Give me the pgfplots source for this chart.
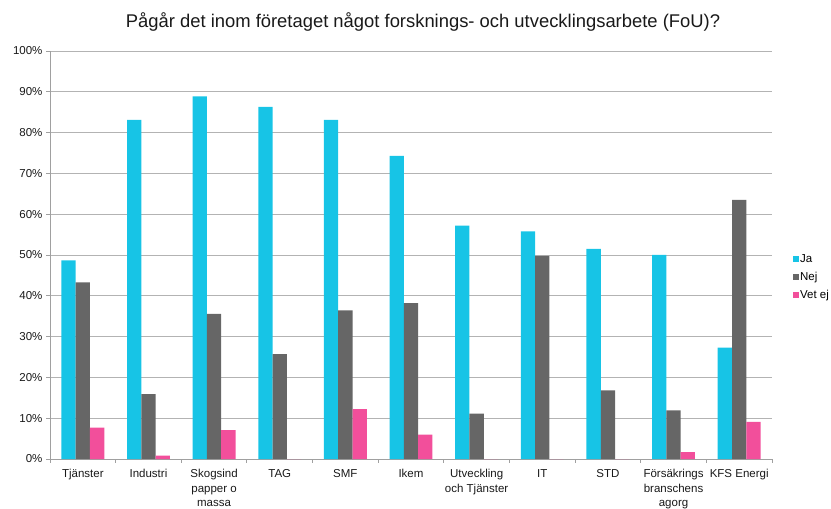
\documentclass[border=0pt]{standalone}
\usepackage{pgfplots}
\pgfplotsset{compat=1.18}
\usepackage{fontspec}
\setmainfont{Liberation Sans}
\definecolor{ja}{HTML}{17C4E6}
\definecolor{nej}{HTML}{666666}
\definecolor{vet}{HTML}{F24F9B}
\definecolor{gridc}{HTML}{B3B3B3}
\definecolor{axc}{HTML}{A0A0A0}
\begin{document}
\begin{tikzpicture}[x=1pt,y=1pt]
\useasboundingbox (0,0) rectangle (831,509);
\node[font=\fontsize{18.4}{21}\selectfont, text=black!90] at (423,487) {Pågår det inom företaget något forsknings- och utvecklingsarbete (FoU)?};
\begin{axis}[at={(50pt,50pt)}, anchor=south west, scale only axis,
  width=722pt, height=408pt,
  ybar=0pt, bar width=14.3pt,
  xmin=-0.5, xmax=10.5, ymin=0, ymax=100,
  axis lines*=left,
  axis line style={color=axc, line width=0.9pt},
  /pgf/number format/assume math mode=true,
  ytick={0,10,...,100},
  yticklabel={\pgfmathprintnumber{\tick}\%},
  ymajorgrids, grid style={gridc, line width=0.9pt},
  xtick={0,...,10},
  xticklabels={Tjänster, Industri, {Skogsind\\papper o\\massa}, TAG, SMF, Ikem, {Utveckling\\och Tjänster}, IT, STD, {Försäkrings\\branschens\\agorg}, KFS Energi},
  minor xtick={-0.5,0.5,...,10.5},
  major x tick style={draw=none},
  tick style={color=axc, line width=0.9pt},
  tick align=outside, major tick length=4pt, minor tick length=4pt,
  ticklabel style={font=\fontsize{11.5}{14.2}\selectfont, text=black!90},
  xticklabel style={align=center, yshift=-3pt},
  legend style={at={(1.029,0.446)}, anchor=west, draw=none, fill=none,
    font=\fontsize{11.5}{14}\selectfont, row sep=6pt, inner sep=0pt,
    nodes={inner sep=1pt}},
  legend cell align=left,
  legend image code/.code={\fill[#1] (0pt,-3pt) rectangle (6pt,3pt);},
]
\addplot[fill=ja, draw=none] coordinates {(0,48.7) (1,83.1) (2,88.9) (3,86.3) (4,83.1) (5,74.3) (6,57.2) (7,55.8) (8,51.5) (9,50.0) (10,27.3)};
\addplot[fill=nej, draw=none] coordinates {(0,43.3) (1,15.9) (2,35.6) (3,25.7) (4,36.4) (5,38.2) (6,11.1) (7,49.8) (8,16.8) (9,11.9) (10,63.5)};
\addplot[fill=vet, draw=none] coordinates {(0,7.7) (1,0.8) (2,7.1) (3,0) (4,12.2) (5,6.0) (6,0) (7,0) (8,0) (9,1.7) (10,9.1)};
\legend{Ja, Nej, Vet ej}
\end{axis}
\end{tikzpicture}
\end{document}
